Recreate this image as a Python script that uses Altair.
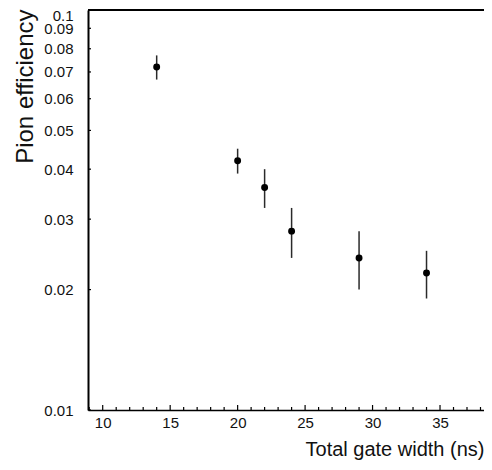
import altair as alt
import pandas as pd

# data
gate_width = [14, 20, 22, 24, 29, 34]
efficiency = [0.072, 0.042, 0.036, 0.028, 0.024, 0.022]
eff_low = [0.067, 0.039, 0.032, 0.024, 0.020, 0.019]
eff_high = [0.077, 0.045, 0.040, 0.032, 0.028, 0.025]

x_major = [10, 15, 20, 25, 30, 35]
x_minor = [9, 11, 12, 13, 14, 16, 17, 18, 19, 21, 22, 23, 24, 26, 27, 28, 29,
           31, 32, 33, 34, 36, 37, 38]
y_ticks = [0.01, 0.02, 0.03, 0.04, 0.05, 0.06, 0.07, 0.08, 0.09, 0.1]

W, H = 396, 400
FONT = "Liberation Sans"

df = pd.DataFrame({"w": gate_width, "eff": efficiency, "lo": eff_low, "hi": eff_high})
df_major = pd.DataFrame({"t": x_major})
df_minor = pd.DataFrame({"t": x_minor})
df_yt = pd.DataFrame({"v": y_ticks})

xs = alt.Scale(domain=[8.91, 38.26], nice=False, zero=False)
ys = alt.Scale(type="log", domain=[0.01, 0.1], nice=False)

x_axis = alt.Axis(
    values=x_major, format="d", ticks=False, tickSize=0, grid=False,
    domainColor="black", domainWidth=1.5,
    labelFont=FONT, labelFontSize=15, labelColor="#111111", labelPadding=5,
    labelFlush=False, labelBaseline="top",
    title="Total gate width (ns)", titleFont=FONT, titleFontSize=20,
    titleFontWeight="normal", titleColor="#111111", titleAnchor="end",
    titleAlign="right", titleX=W, titleY=45, titleBaseline="alphabetic",
)
y_axis = alt.Axis(
    values=y_ticks, format=".2~f", ticks=False, tickSize=0, grid=False,
    domainColor="black", domainWidth=2,
    labelFont=FONT, labelFontSize=15, labelColor="#111111", labelPadding=15,
    labelFlush=False, labelOverlap=False,
    labelBaseline={"condition": {"test": "datum.value >= 0.099", "value": "top"},
                   "value": "middle"},
    labelOffset={"condition": {"test": "datum.value >= 0.099", "value": -2},
                 "value": 0},
    title="Pion efficiency", titleFont=FONT, titleFontSize=24,
    titleFontWeight="normal", titleColor="#111111", titleAnchor="end",
    titleAlign="right", titleAngle=270, titleX=-56, titleY=-1,
    titleBaseline="alphabetic",
)

errbars = alt.Chart(df).mark_rule(color="#2a2a2a", strokeWidth=1.5).encode(
    x=alt.X("w:Q", scale=xs, axis=x_axis),
    y=alt.Y("lo:Q", scale=ys, axis=y_axis),
    y2="hi:Q",
)
points = alt.Chart(df).mark_circle(size=48, color="black", opacity=1).encode(
    x=alt.X("w:Q", scale=xs, axis=x_axis),
    y=alt.Y("eff:Q", scale=ys, axis=y_axis),
)
major_ticks = alt.Chart(df_major).mark_rule(color="black", strokeWidth=1.2).encode(
    x=alt.X("t:Q", scale=xs, axis=x_axis),
    y=alt.value(H),
    y2=alt.value(H - 5),
)
minor_ticks = alt.Chart(df_minor).mark_rule(color="black", strokeWidth=1.2).encode(
    x=alt.X("t:Q", scale=xs, axis=x_axis),
    y=alt.value(H),
    y2=alt.value(H - 3),
)
y_tick_marks = alt.Chart(df_yt).mark_rule(color="black", strokeWidth=1.2).encode(
    y=alt.Y("v:Q", scale=ys, axis=y_axis),
    x=alt.value(0),
    x2=alt.value(3),
)
top_line = alt.Chart(df_major).mark_rule(color="black", strokeWidth=1.5).encode(
    x=alt.value(0), x2=alt.value(W), y=alt.value(0)
)

chart = alt.layer(
    top_line, major_ticks, minor_ticks, y_tick_marks, errbars, points
).properties(
    width=W, height=H,
    padding={"left": 80, "top": 2, "right": 0, "bottom": 50},
    autosize=alt.AutoSizeParams(type="none"),
).configure_view(stroke=None)

chart.save("out.html", embed_options={"renderer": "svg", "actions": False})
